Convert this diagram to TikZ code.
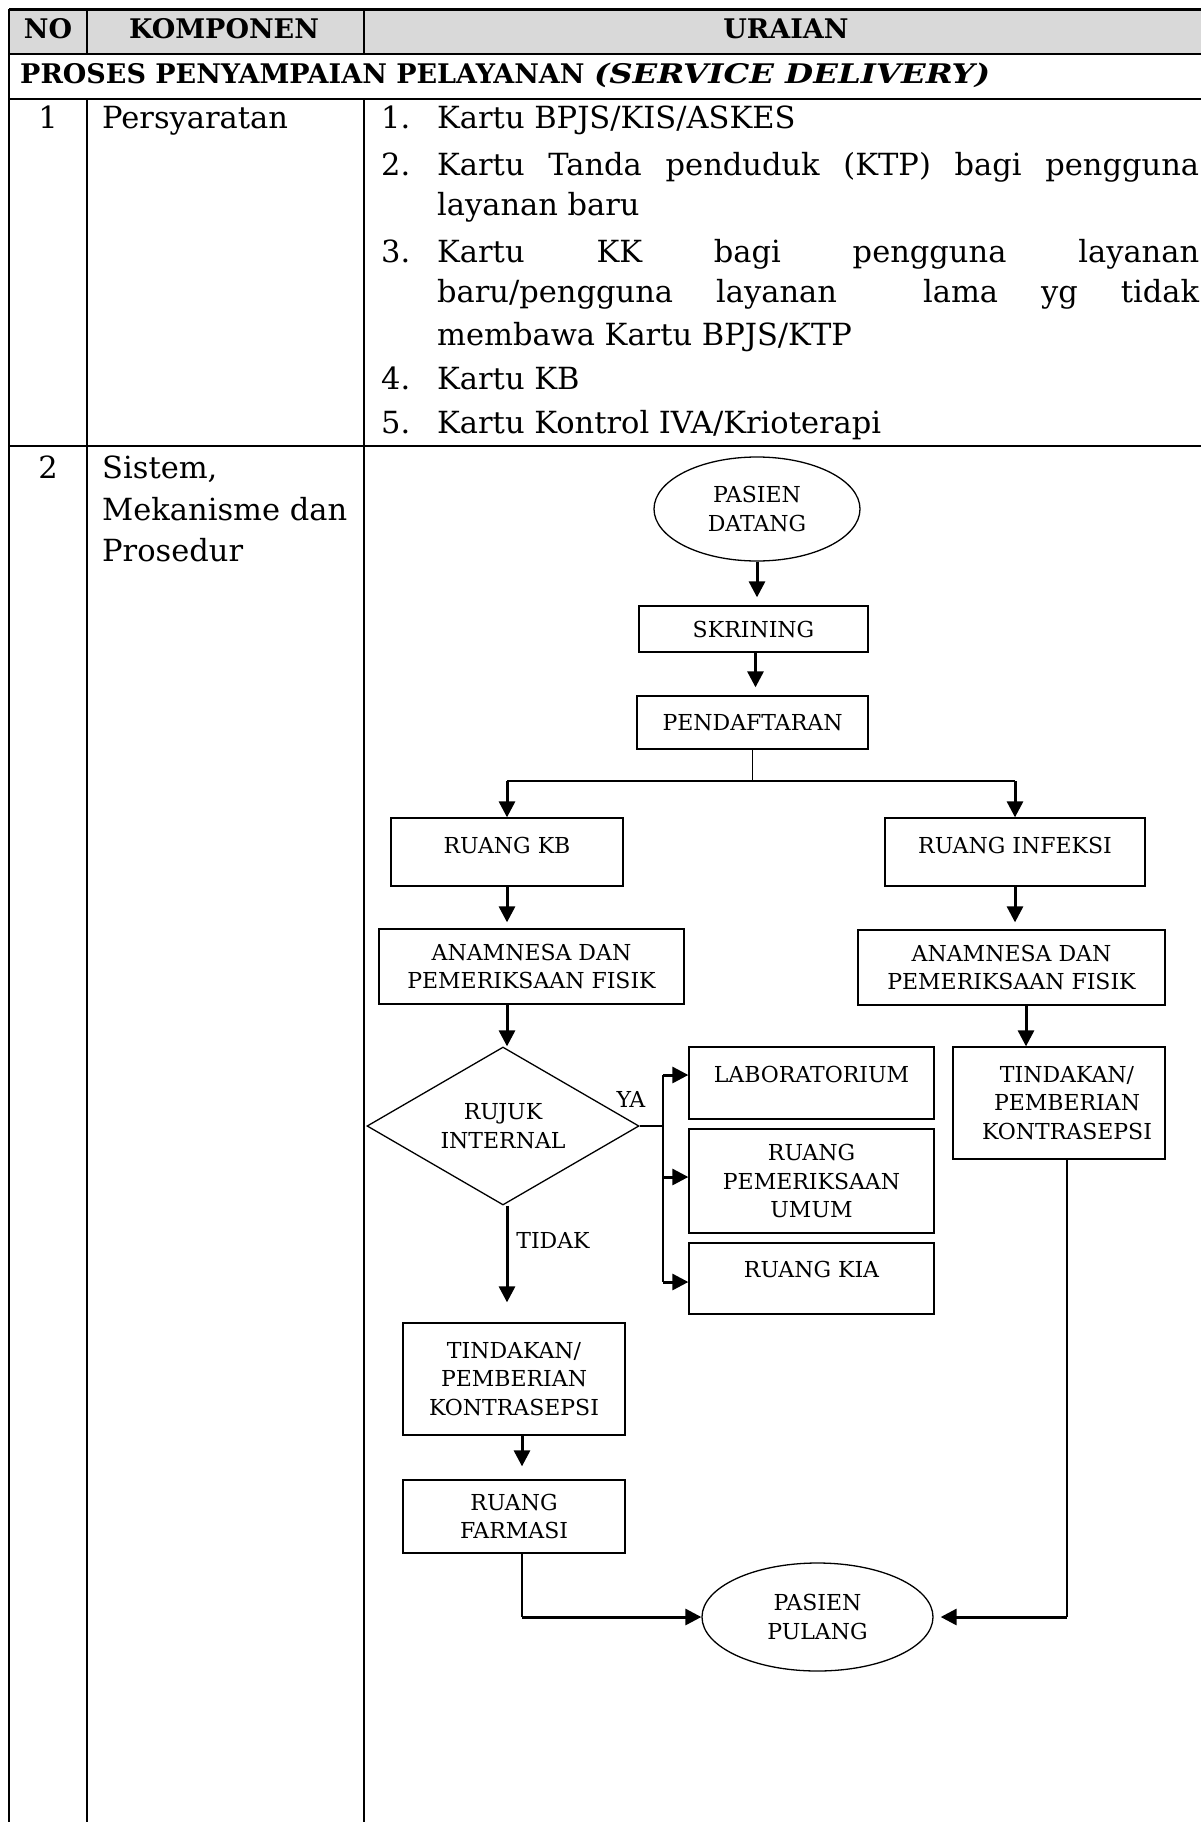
\documentclass[tikz,border=0pt]{standalone}
\usepackage{fontspec}
\usepackage{graphicx}
\setmainfont{DejaVu Serif}
\usetikzlibrary{arrows.meta,shapes.geometric}
\definecolor{hdrfill}{HTML}{D9D9D9}
\newcommand\fsBody{\fontsize{30.5}{41}\selectfont}
\newcommand\fsHead{\fontsize{27}{32}\selectfont\bfseries}
\newcommand\fsFlow{\fontsize{22}{28.5}\selectfont}
\begin{document}
\begin{tikzpicture}[x=1pt,y=-1pt,
  gridline/.style={line width=2.6pt},
  txt/.style={inner sep=0pt, font=\fsBody},
  hd/.style={inner sep=0pt, font=\fsHead},
  box/.style={draw, line width=1.3pt, rectangle, inner sep=0pt, align=center, font=\fsFlow},
  topbox/.style={draw, line width=1.3pt, rectangle, inner sep=0pt, font=\fsFlow},
  oval/.style={draw, line width=1.3pt, ellipse, inner sep=0pt, align=center, font=\fsFlow},
  decide/.style={draw, line width=1.3pt, diamond, aspect=1.72, inner sep=0pt, align=center, font=\fsFlow},
  conn/.style={line width=1.3pt},
  arr/.style={line width=3pt, -{Triangle[length=16pt,width=16pt]}},
  lbl/.style={inner sep=0pt, font=\fsFlow},
]
% page
\fill[white] (0,0) rectangle (1201,1822);
\useasboundingbox (0,0) rectangle (1201,1822);

% table header band and grid
\fill[hdrfill] (9,9.5) rectangle (1201,54);
\draw[gridline] (9,9.5) -- (1201,9.5);
\draw[gridline] (9,54) -- (1201,54);
\draw[gridline] (9,99) -- (1201,99);
\draw[gridline] (9,446) -- (1201,446);
\draw[gridline] (9,9.5) -- (9,1822);
\draw[gridline] (87,9.5) -- (87,54);
\draw[gridline] (87,99) -- (87,1822);
\draw[gridline] (364,9.5) -- (364,54);
\draw[gridline] (364,99) -- (364,1822);

% header texts
\node[hd, anchor=base] (hNo) at (48,39) {NO};
\node[hd, anchor=base] (hKomp) at (224,39) {KOMPONEN};
\node[hd, anchor=base] (hUraian) at (786,39) {URAIAN};
\node[hd, anchor=base west] (hSection) at (20,84) {PROSES PENYAMPAIAN PELAYANAN \scalebox{1.2}[1]{\textit{(SERVICE DELIVERY)}}};

% row 1
\node[txt, anchor=base] (n1) at (48,129) {1};
\node[txt, anchor=base west] (k1) at (102,129) {Persyaratan};
\node[txt, anchor=base west] (i1n) at (381,129) {1.};
\node[txt, anchor=base west] (i1a) at (437,129) {Kartu BPJS/KIS/ASKES};
\node[txt, anchor=base west] (i2n) at (381,176) {2.};
\node[txt, anchor=base west] (i2a) at (437,176) {\makebox[762pt][s]{Kartu Tanda penduduk (KTP) bagi pengguna}};
\node[txt, anchor=base west] (i2b) at (437,215) {layanan baru};
\node[txt, anchor=base west] (i3n) at (381,262) {3.};
\node[txt, anchor=base west] (i3a) at (437,262) {\makebox[762pt][s]{Kartu KK bagi pengguna layanan}};
\node[txt, anchor=base west] (i3b) at (437,302) {\makebox[762pt][s]{baru/pengguna layanan\ \ lama yg tidak}};
\node[txt, anchor=base west] (i3c) at (437,345) {membawa Kartu BPJS/KTP};
\node[txt, anchor=base west] (i4n) at (381,389) {4.};
\node[txt, anchor=base west] (i4a) at (437,389) {Kartu KB};
\node[txt, anchor=base west] (i5n) at (381,433) {5.};
\node[txt, anchor=base west] (i5a) at (437,433) {Kartu Kontrol IVA/Krioterapi};

% row 2
\node[txt, anchor=base] (n2) at (48,478) {2};
\node[txt, anchor=base west] (k2a) at (102,478) {Sistem,};
\node[txt, anchor=base west] (k2b) at (102,520) {Mekanisme dan};
\node[txt, anchor=base west] (k2c) at (102,561) {Prosedur};

% flowchart nodes
\node[oval, minimum width=206pt, minimum height=104pt] (datang) at (757,509) {PASIEN\\DATANG};
\node[box, minimum width=229pt, minimum height=46pt] (skrining) at (753.5,629) {SKRINING};
\node[box, minimum width=231pt, minimum height=53pt] (daftar) at (752.5,722.5) {PENDAFTARAN};
\node[topbox, minimum width=232pt, text height=35pt, text depth=33pt] (kb) at (507,852) {RUANG KB};
\node[topbox, minimum width=260pt, text height=35pt, text depth=33pt] (infeksi) at (1015,852) {RUANG INFEKSI};
\node[box, minimum width=305pt, minimum height=75pt] (ana1) at (531.5,966.5) {ANAMNESA DAN\\PEMERIKSAAN FISIK};
\node[box, minimum width=307pt, minimum height=75pt] (ana2) at (1011.5,967.5) {ANAMNESA DAN\\PEMERIKSAAN FISIK};
\node[decide, minimum width=272pt, minimum height=158pt] (rujuk) at (503,1126) {RUJUK\\INTERNAL};
\node[topbox, minimum width=245pt, text height=35pt, text depth=37pt] (lab) at (811.5,1083) {LABORATORIUM};
\node[box, minimum width=245pt, minimum height=104pt] (umum) at (811.5,1181) {RUANG\\PEMERIKSAAN\\UMUM};
\node[topbox, minimum width=245pt, text height=34pt, text depth=37pt] (kia) at (811.5,1278.5) {RUANG KIA};
\node[box, minimum width=212pt, minimum height=112pt] (tind2) at (1059,1103) {\hspace*{16pt}TINDAKAN/\\\hspace*{16pt}PEMBERIAN\\\hspace*{16pt}KONTRASEPSI};
\node[box, minimum width=222pt, minimum height=112pt] (tind1) at (514,1379) {TINDAKAN/\\PEMBERIAN\\KONTRASEPSI};
\node[box, minimum width=222pt, minimum height=73pt] (farmasi) at (514,1516.5) {RUANG\\FARMASI};
\node[oval, minimum width=231pt, minimum height=108pt] (pulang) at (817.5,1617) {PASIEN\\PULANG};

% branch labels
\node[lbl, anchor=base] (ya) at (631,1107) {YA};
\node[lbl, anchor=base] (tidak) at (553,1248) {TIDAK};

% helper points
\coordinate (branchY) at (0,781);
\coordinate (yaBus) at (663,1126);
\coordinate (yaTop) at (663,1075);
\coordinate (yaMid) at (663,1177);
\coordinate (yaBot) at (663,1282);

% connectors
\draw[arr, shorten >=8pt] (datang.south) -- (datang.south |- skrining.north);
\draw[arr, shorten >=8pt] ([xshift=2pt]skrining.south) -- ([xshift=2pt]skrining.south |- daftar.north);
\draw[conn] (daftar.south) -- (daftar.south |- branchY);
\draw[conn] (kb.north |- branchY) -- (infeksi.north |- branchY);
\draw[arr] (kb.north |- branchY) -- (kb.north);
\draw[arr] (infeksi.north |- branchY) -- (infeksi.north);
\draw[arr, shorten >=6pt] (kb.south) -- (kb.south |- ana1.north);
\draw[arr, shorten >=7pt] (infeksi.south) -- (infeksi.south |- ana2.north);
\draw[arr] (kb.south |- ana1.south) -- (kb.south |- rujuk.north);
\draw[arr] ([xshift=14.5pt]ana2.south) -- ([xshift=14.5pt]ana2.south |- tind2.north);
\draw[arr, shorten >=20pt] (kb.south |- rujuk.south) -- (kb.south |- tind1.north);
\draw[conn] (rujuk.east) -- (yaBus);
\draw[conn] (yaTop) -- (yaBot);
\draw[arr] (yaTop) -- (lab.west |- yaTop);
\draw[arr] (yaMid) -- (umum.west |- yaMid);
\draw[arr] (yaBot) -- (kia.west |- yaBot);
\draw[arr, shorten >=13pt] ([xshift=8pt]tind1.south) -- ([xshift=8pt]tind1.south |- farmasi.north);
\draw[conn] ([xshift=8pt]farmasi.south) -- ([xshift=8pt]farmasi.south |- pulang.west);
\draw[arr] ([xshift=8pt]farmasi.south |- pulang.west) -- (pulang.west);
\draw[conn] ([xshift=8pt]tind2.south) -- ([xshift=8pt]tind2.south |- pulang.east);
\draw[arr, shorten >=7pt] ([xshift=8pt]tind2.south |- pulang.east) -- (pulang.east);
\end{tikzpicture}
\end{document}
